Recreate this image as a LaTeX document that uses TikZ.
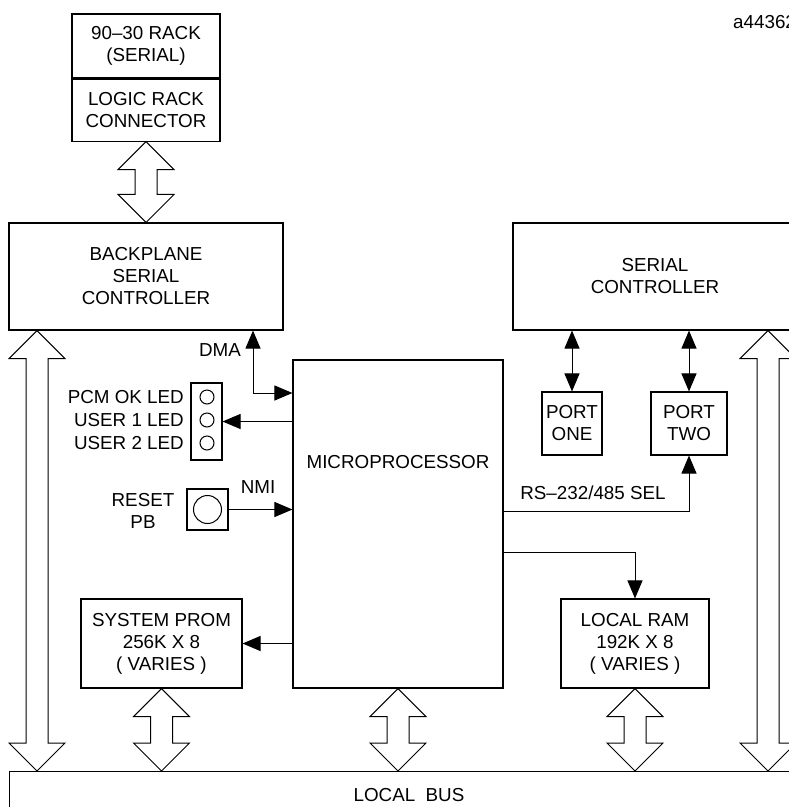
\documentclass[tikz,border=0pt]{standalone}
\usepackage{fontspec}
\setmainfont{Liberation Sans}
\usetikzlibrary{arrows.meta, positioning, calc}

% open double-headed bus arrow from #1 (top) to #2 (bottom)
\newcommand{\busarrow}[2]{%
  \draw[fat] let \p1=(#1), \p2=(#2) in
    (\x1,\y1) -- (\x1+28pt,\y1-28pt) -- (\x1+11pt,\y1-28pt)
    -- (\x1+11pt,\y2+28pt) -- (\x1+28pt,\y2+28pt) -- (\x1,\y2)
    -- (\x1-28pt,\y2+28pt) -- (\x1-11pt,\y2+28pt)
    -- (\x1-11pt,\y1-28pt) -- (\x1-28pt,\y1-28pt) -- cycle;}

\begin{document}
\begin{tikzpicture}[
    x=1pt, y=-1pt,
    every node/.style={font=\fontsize{18.8}{22}\selectfont},
    blk/.style={draw, line width=1.1pt, align=center, inner sep=0pt},
    lbl/.style={align=center, inner sep=0pt},
    sig/.style={line width=1pt},
    fat/.style={line width=1pt, fill=white},
    >={Triangle[length=18pt,width=15pt]}
]
\useasboundingbox (0,0) rectangle (789,807);

% Rack connector
\node[blk, minimum width=148pt, minimum height=64pt] (rack) at (146,46) {90–30 RACK\\(SERIAL)};
\node[blk, minimum width=148pt, minimum height=62pt, below=0pt of rack] (rackconn) {LOGIC RACK\\CONNECTOR};
\node[lbl, anchor=west] (figid) at (733,22) {a44362};

% Controllers
\node[blk, minimum width=274pt, minimum height=107pt] (bpsc) at (146,276.5) {BACKPLANE\\SERIAL\\CONTROLLER};
\node[blk, minimum width=284pt, minimum height=107pt] (serc) at (655,276.5) {SERIAL\\CONTROLLER};
\node[blk, minimum width=60pt, minimum height=63pt] (portone) at (572,423.5) {PORT\\ONE};
\node[blk, minimum width=76pt, minimum height=63pt] (porttwo) at (689,423.5) {PORT\\TWO};

% Microprocessor
\node[blk, minimum width=210pt, minimum height=328pt] (micro) at (398,524) {};
\node[lbl] (microlbl) at (398,462) {MICROPROCESSOR};

% LEDs and reset
\node[blk, minimum width=31pt, minimum height=77pt] (leds) at (206.5,421.5) {};
\foreach \yy in {397,420,443}
    { \draw[sig] (207,\yy) circle[radius=7pt]; }
\node[lbl, anchor=east] (ledok) at (184,397) {PCM OK LED};
\node[lbl, anchor=east] (ledone) at (184,420) {USER 1 LED};
\node[lbl, anchor=east] (ledtwo) at (184,443) {USER 2 LED};
\node[blk, minimum width=41pt, minimum height=41pt] (reset) at (207.5,509.5) {};
\draw[sig] (reset.center) circle[radius=14pt];
\node[lbl] (resetlbl) at (143,511) {RESET\\PB};

% Memories
\node[blk, minimum width=161pt, minimum height=89pt] (prom) at (161.5,643.5) {SYSTEM PROM\\256K X 8\\( VARIES )};
\node[blk, minimum width=148pt, minimum height=89pt] (ram) at (635,643.5) {LOCAL RAM\\192K X 8\\( VARIES )};

% Local bus
\node[blk, anchor=north west, minimum width=820pt, minimum height=60pt] (bus) at (9,771) {};
\node[lbl] (buslbl) at (409,795) {LOCAL\ \ BUS};

% Signal lines
\node[lbl] (dmalbl) at (220,350) {DMA};
\node[lbl] (nmilbl) at (258,487) {NMI};
\node[lbl] (sellbl) at (593,493) {RS–232/485 SEL};
\coordinate (dma) at (253,393);
\coordinate (ramtap) at (0,552);
\coordinate (seltap) at (0,511);
\draw[sig, <->] (bpsc.south -| dma) |- (micro.west |- dma);
\draw[sig, ->] (micro.west |- leds) -- (leds.east);
\draw[sig, ->] (reset.east) -- (micro.west |- reset);
\draw[sig, ->] (micro.west |- prom) -- (prom.east);
\draw[sig, ->] (micro.east |- ramtap) -| (ram.north);
\draw[sig, ->] (micro.east |- seltap) -| (porttwo.south);
\draw[sig, <->] (serc.south -| portone) -- (portone.north);
\draw[sig, <->] (serc.south -| porttwo) -- (porttwo.north);

% Bus arrows
\coordinate (lbus) at (37,0);
\coordinate (rbus) at (768,0);
\busarrow{rackconn.south}{bpsc.north}
\busarrow{bpsc.south -| lbus}{bus.north -| lbus}
\busarrow{serc.south -| rbus}{bus.north -| rbus}
\busarrow{prom.south}{bus.north -| prom}
\busarrow{micro.south}{bus.north -| micro}
\busarrow{ram.south}{bus.north -| ram}
\end{tikzpicture}
\end{document}
